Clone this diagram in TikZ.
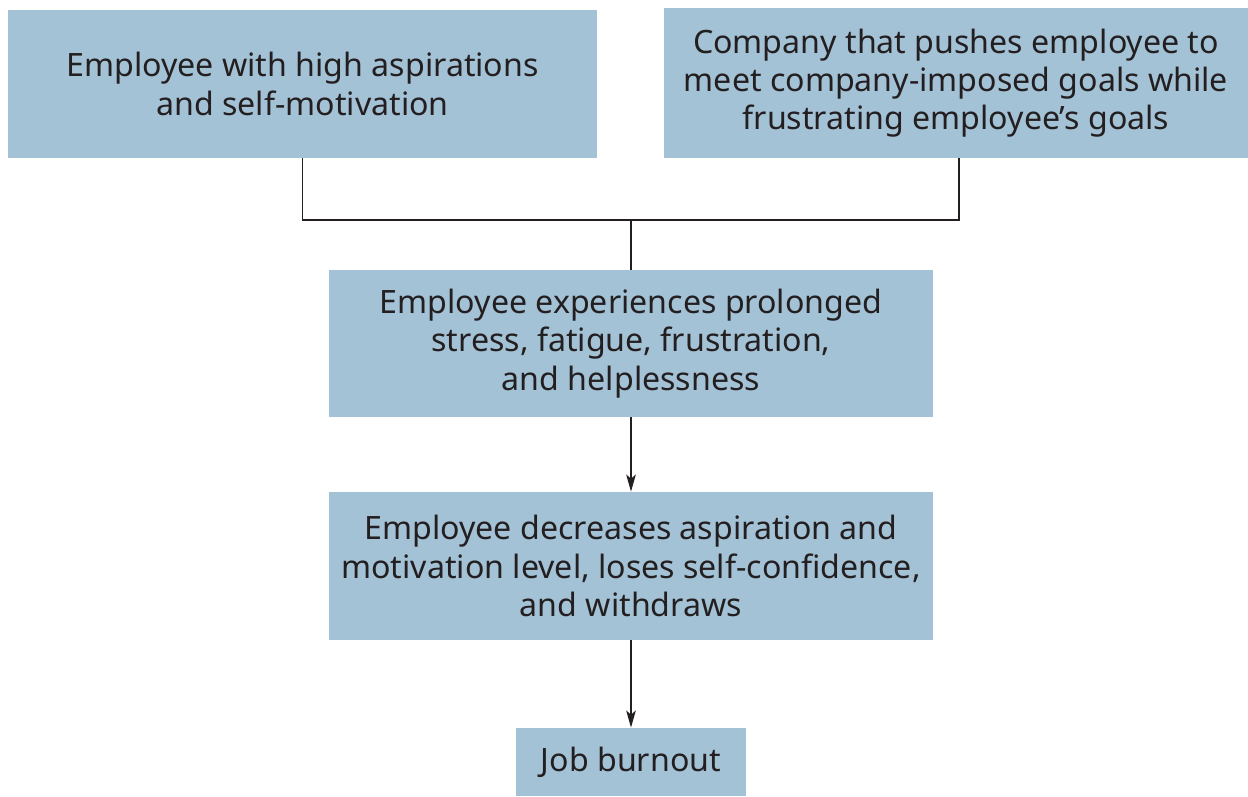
\documentclass[tikz,border=0pt]{standalone}
\usepackage{fontspec}
\setmainfont{Noto Sans}
\usepackage{tikz}
\usetikzlibrary{arrows.meta,positioning}
\definecolor{boxblue}{RGB}{164,194,214}
\definecolor{inkgray}{RGB}{35,31,32}
\tikzset{
  box/.style={fill=boxblue,align=center,text=inkgray,inner sep=0pt,
              font=\fontsize{18.3}{21.8}\selectfont},
  link/.style={draw=inkgray,line width=1.1pt},
  arr/.style={link,-{Stealth[length=3.4mm,width=1.9mm,inset=0.8mm]}}
}
\begin{document}
\begin{tikzpicture}
  \useasboundingbox (0,0) rectangle (24.96,15.92);
  \node[box,minimum width=11.78cm,minimum height=2.96cm] (aspire) at (6.05,14.24)
    {Employee with high aspirations\\and self-motivation};
  \node[box,minimum width=11.68cm,minimum height=3.0cm] (company) at (19.12,14.26)
    {Company that pushes employee to\\meet company-imposed goals while\\frustrating employee’s goals};
  \node[box,minimum width=12.08cm,minimum height=2.94cm] (stress) at (12.62,9.05)
    {Employee experiences prolonged\\stress, fatigue, frustration,\\and helplessness};
  \node[box,minimum width=12.08cm,minimum height=2.96cm] (withdraw) at (12.62,4.60)
    {Employee decreases aspiration and\\motivation level, loses self-confidence,\\and withdraws};
  \node[box,minimum width=4.6cm,minimum height=1.36cm] (burnout) at (12.62,0.68)
    {Job burnout};
  % joining lines
  \coordinate (join) at (12.62,11.52);
  \draw[link] (aspire.south) |- (join);
  \draw[link] ([xshift=0.06cm]company.south) |- (join);
  \draw[link] (join) -- (stress.north);
  \draw[arr] (stress) -- (withdraw);
  \draw[arr] (withdraw) -- (burnout);
\end{tikzpicture}
\end{document}
